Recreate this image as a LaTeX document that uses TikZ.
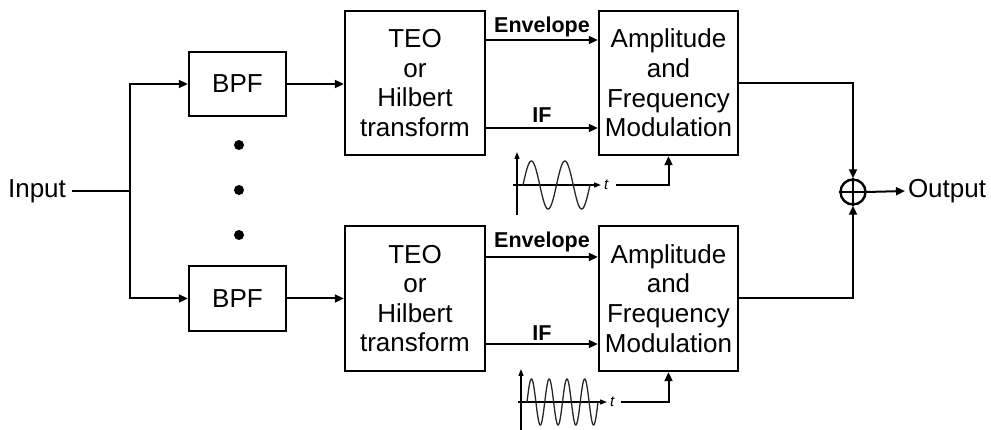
\documentclass[tikz,border=0pt]{standalone}
\usepackage{fontspec}
\setmainfont{Liberation Sans}
\usetikzlibrary{arrows.meta}
\begin{document}
\begin{tikzpicture}[x=1pt,y=-1pt,
  line width=2pt,
  >={Triangle[length=9pt,width=8pt]},
  blk/.style={draw,line width=2.4pt,inner sep=0pt,align=center,
    font=\fontsize{26}{29.6}\selectfont},
  lbl/.style={font=\fontsize{21.5}{24}\bfseries\selectfont,inner sep=2pt},
  plain/.style={font=\fontsize{26}{30}\selectfont,inner sep=2pt},
  wave/.style={line width=1.3pt,draw=black!85},
  axis/.style={line width=1.2pt,-{Triangle[length=7pt,width=5pt]}},
  tlab/.style={font=\fontsize{15}{17}\itshape\selectfont,inner sep=1pt},
  dot/.style={circle,fill=black,inner sep=0pt,minimum size=10pt}]
\useasboundingbox (0,0) rectangle (991,430);

% blocks
\node[blk,minimum width=97pt,minimum height=64pt] (bpf1) at (237.5,84) {BPF};
\node[blk,minimum width=97pt,minimum height=65pt] (bpf2) at (237.5,298.5) {BPF};
\node[blk,minimum width=140pt,minimum height=144pt] (teo1) at (415,83) {TEO\\or\\Hilbert\\transform};
\node[blk,minimum width=140pt,minimum height=145pt] (teo2) at (415,298.5) {TEO\\or\\Hilbert\\transform};
\node[blk,minimum width=139pt,minimum height=144pt] (amp1) at (668.5,83) {Amplitude\\and\\Frequency\\Modulation};
\node[blk,minimum width=139pt,minimum height=145pt] (amp2) at (668.5,298.5) {Amplitude\\and\\Frequency\\Modulation};

% dots
\node[dot] (d1) at (239,145) {};
\node[dot] (d2) at (239,190) {};
\node[dot] (d3) at (239,235) {};

% input
\node[plain,inner xsep=5pt] (in) at (37,191) {Input};
\coordinate (split) at (130,192);
\draw (in.east) -- (in.east -| split);
\draw[->] (split) |- (bpf1.west);
\draw[->] (split) |- (bpf2.west);

% bpf -> teo
\draw[->] (bpf1.east) -- (bpf1.east -| teo1.west);
\draw[->] (bpf2.east) -- (bpf2.east -| teo2.west);

% teo -> amp
\draw[->] ([yshift=43pt]teo1.east) -- node[lbl,above]{Envelope} ([yshift=43pt]amp1.west);
\draw[->] ([yshift=-45pt]teo1.east) -- node[lbl,above,inner sep=4pt]{IF} ([yshift=-45pt]amp1.west);
\draw[->] ([yshift=41.5pt]teo2.east) -- node[lbl,above,inner sep=4pt]{Envelope} ([yshift=41.5pt]amp2.west);
\draw[->] ([yshift=-45.5pt]teo2.east) -- node[lbl,above,inner sep=2pt]{IF} ([yshift=-45.5pt]amp2.west);

% sum
\node[draw,circle,line width=2.4pt,minimum size=25pt,inner sep=0pt] (sum) at (853,192) {};
\draw[line width=2.2pt] (sum.north) -- (sum.south) (sum.west) -- (sum.east);
\draw[->] (amp1.east) -| (sum.north);
\draw[->] (amp2.east) -| (sum.south);
\node[plain,anchor=west] (out) at (905,191) {Output};
\draw[->] (sum.east) -- (out.west);

% top carrier
\draw[axis] (517,215) -- (517,152);
\draw[axis] (513,185) -- (601,185);
\node[tlab,anchor=west] (t1) at (602,185) {t};
\draw[wave] plot[domain=0:720,samples=120] ({523+\x/720*67},{185-24*sin(\x)});
\draw[->] ([xshift=6pt]t1.east) -| (amp1.south);

% bottom carrier
\draw[axis] (521,430) -- (521,369);
\draw[axis] (518,402) -- (607,402);
\node[tlab,anchor=west] (t2) at (608,402) {t};
\draw[wave] plot[domain=0:1440,samples=240] ({527+\x/1440*71},{402-23*sin(\x)});
\draw[->] ([xshift=5pt]t2.east) -| (amp2.south);
\end{tikzpicture}
\end{document}
